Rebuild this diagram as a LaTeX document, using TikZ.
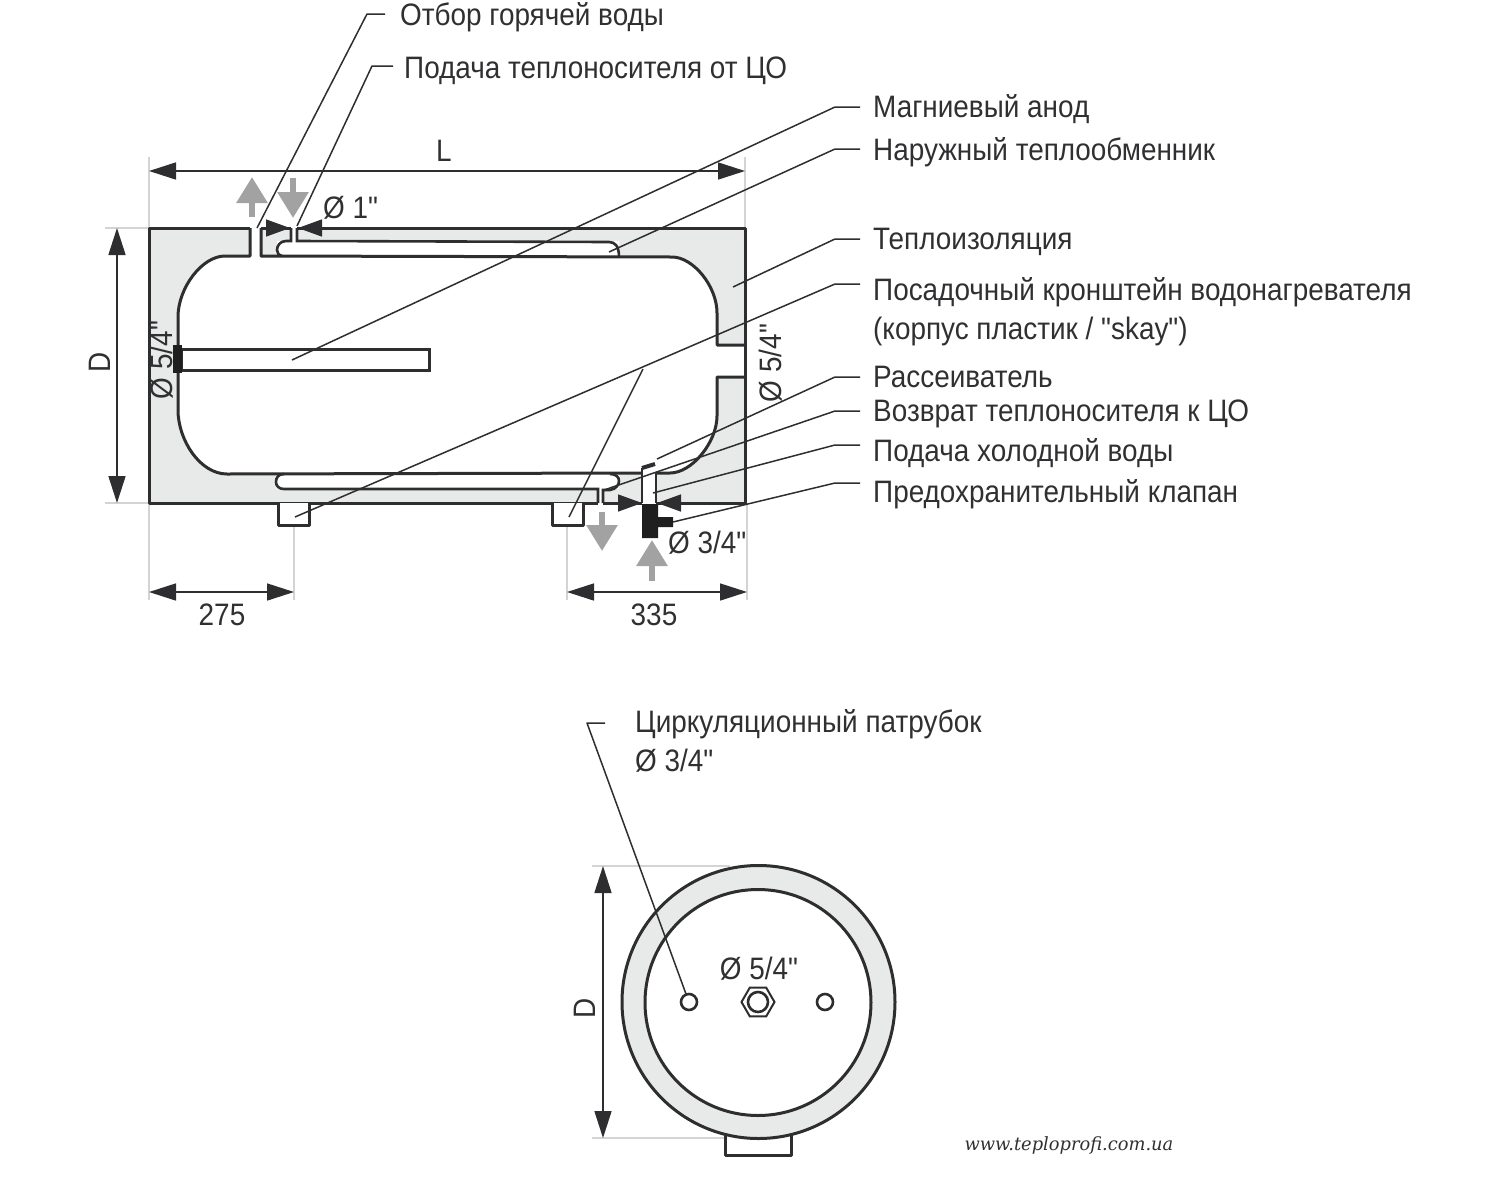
\documentclass[tikz,border=0pt]{standalone}
\usepackage{fontspec}
\newfontfamily\labelfont[FakeStretch=0.9]{Liberation Sans}
\newfontfamily\urlfont[FakeStretch=0.98]{DejaVu Serif}
\usetikzlibrary{arrows.meta,shapes.geometric}
\definecolor{ink}{HTML}{2E2E30}
\definecolor{insul}{HTML}{E8EAEA}
\definecolor{flow}{HTML}{A2A2A2}
\definecolor{ext}{HTML}{D4D4D4}
\definecolor{txt}{HTML}{303032}
\tikzset{
  wall/.style={draw=ink,line width=3pt,line join=round},
  thin wall/.style={draw=ink,line width=2.6pt},
  leader/.style={draw=ink,line width=1.5pt,line join=round},
  extline/.style={draw=ext,line width=1.6pt},
  dim/.style={draw=ink,line width=1.6pt,{Triangle[length=27pt,width=17pt]}-{Triangle[length=27pt,width=17pt]}},
  pinch/.style={draw=ink,line width=1.5pt,-{Triangle[length=24pt,width=17pt]},ink},
  flowarrow/.style={draw=flow,line width=6pt,-{Triangle[length=26pt,width=30pt]}},
  lbl/.style={anchor=west,inner xsep=0pt,inner ysep=0pt,text=txt,font=\labelfont\fontsize{31}{39}\selectfont,text height=22pt,text depth=6pt},
  plain/.style={inner sep=0pt,text=txt,font=\labelfont\fontsize{31}{39}\selectfont},
}
\begin{document}
\begin{tikzpicture}[x=1pt,y=-1pt]
\useasboundingbox (0,0) rectangle (1500,1200);
% extension lines
\draw[extline] (149,157) -- (149,600) (745,157) -- (745,228);
\draw[extline] (105,228) -- (149,228) (105,503) -- (149,503);
\draw[extline] (294,525) -- (294,600) (567,525) -- (567,600) (747,503) -- (747,600);
\draw[extline] (592,866) -- (730,866) (592,1138) -- (730,1138);
% insulation and tank
\fill[insul] (149,228) rectangle (745,503);
\fill[white] (250,228) rectangle (261,257) (291,228) rectangle (297,242)
  (277,241) rectangle (619,257) (276,474) rectangle (619,489)
  (598,489) rectangle (603,503) (642,468) rectangle (656,503);
\path[fill=white] (225,256) .. controls (202,256) and (178,288) .. (178,317) -- (178,410)
  .. controls (178,440) and (200,474) .. (227,474) -- (670,473)
  .. controls (692,473) and (717,442) .. (717,416) -- (717,377) -- (745,377) -- (745,345) -- (717,345) -- (717,313)
  .. controls (717,286) and (693,257) .. (672,257) -- cycle;
\draw[wall] (250,228) -- (149,228) -- (149,503) -- (598,503);
\draw[wall] (261,228) -- (291,228) (297,228) -- (745,228) -- (745,503) -- (656,503) (642,503) -- (603,503);
\draw[wall] (250,228) -- (250,256) -- (225,256) .. controls (202,256) and (178,288) .. (178,317) -- (178,410)
  .. controls (178,440) and (200,474) .. (227,474) -- (642,473);
\draw[wall] (656,473) -- (670,473) .. controls (692,473) and (717,442) .. (717,416) -- (717,377) -- (745,377);
\draw[wall] (745,345) -- (717,345) -- (717,313) .. controls (717,286) and (693,257) .. (672,257) -- (261,256) -- (261,228);
% top exchanger
\draw[thin wall] (291,228) -- (291,241) -- (286,241) .. controls (280,241) and (277,246) .. (277,250) .. controls (277,253) and (279,256) .. (282,256);
\draw[thin wall] (297,228) -- (297,241) -- (609,242) .. controls (615,242) and (619,246) .. (619,257);
% bottom exchanger
\draw[thin wall] (284,474) .. controls (278,474) and (276,478) .. (276,482) .. controls (276,486) and (279,489) .. (284,489) -- (598,489) -- (598,503);
\draw[thin wall] (603,503) -- (603,490) -- (610,490) .. controls (616,489) and (619,485) .. (619,481) .. controls (619,477) and (616,474) .. (610,474);
% cold water neck
\draw[thin wall] (642,503) -- (642,468);
\draw[ink,line width=4pt] (642,468) -- (655,464);
\draw[thin wall] (656,503) -- (656,473);
% feet
\draw[wall,fill=white] (278,503) |- (309,525) -- (309,503);
\draw[wall,fill=white] (552,503) |- (583,525) -- (583,503);
% anode
\node[draw=ink,line width=3pt,fill=white,minimum width=248pt,minimum height=21pt,inner sep=0pt,anchor=west] (anode) at (179.5,359.5) {};
\fill[black!88] (173,345) rectangle (182,373);
% valve
\fill[black!88] (642,504) rectangle (658,538) (658,517) rectangle (673,527);
% flow arrows
\coordinate (f1a) at (252,217); \coordinate (f1b) at (252,177);
\coordinate (f2a) at (293,178); \coordinate (f2b) at (293,218);
\coordinate (f3a) at (602,512); \coordinate (f3b) at (602,551);
\coordinate (f4a) at (652,581); \coordinate (f4b) at (652,540);
\draw[flowarrow] (f1a) -- (f1b);
\draw[flowarrow] (f2a) -- (f2b);
\draw[flowarrow] (f3a) -- (f3b);
\draw[flowarrow] (f4a) -- (f4b);
% labels
\node[lbl] (hot) at (400,17) {Отбор горячей воды};
\node[lbl] (feed) at (404,70) {Подача теплоносителя от ЦО};
\node[lbl] (anodel) at (873,109) {Магниевый анод};
\node[lbl] (exch) at (873,152) {Наружный теплообменник};
\node[lbl] (ins) at (873,241) {Теплоизоляция};
\node[lbl] (brk) at (873,292) {Посадочный кронштейн водонагревателя};
\node[lbl] (brk2) at (873,331) {(корпус пластик / "skay")};
\node[lbl] (diff) at (873,379) {Рассеиватель};
\node[lbl] (ret) at (873,413) {Возврат теплоносителя к ЦО};
\node[lbl] (cold) at (873,453) {Подача холодной воды};
\node[lbl] (valve) at (873,494) {Предохранительный клапан};
\node[lbl] (circ) at (635,724) {Циркуляционный патрубок};
\node[lbl] (circ2) at (635,763) {Ø 3/4"};
\node[plain] (dl) at (444,151) {L};
\node[plain,rotate=90] (dd) at (100,362) {D};
\node[plain] (d275) at (222,615) {275};
\node[plain] (d335) at (654,615) {335};
\node[plain,anchor=west] (p1) at (323,208) {Ø 1"};
\node[plain,anchor=west] (p34) at (668,543) {Ø 3/4"};
\node[plain,rotate=90] (p54a) at (162,360) {Ø 5/4"};
\node[plain,rotate=90] (p54b) at (771,363) {Ø 5/4"};
\node[plain,rotate=90] (dd2) at (585,1008) {D};
\node[inner sep=0pt,text=txt,font=\urlfont\itshape\fontsize{18.2}{22}\selectfont] (url) at (1069,1145) {www.teploprofi.com.ua};
% dimensions
\coordinate (La) at (149,171); \coordinate (Lb) at (745,171);
\coordinate (Da) at (117,228); \coordinate (Db) at (117,503);
\coordinate (Aa) at (149,592); \coordinate (Ab) at (294,592);
\coordinate (Ba) at (567,592); \coordinate (Bb) at (747,592);
\coordinate (Ca) at (603,866); \coordinate (Cb) at (603,1138);
\draw[dim] (La) -- (Lb);
\draw[dim] (Da) -- (Db);
\draw[dim] (Aa) -- (Ab);
\draw[dim] (Ba) -- (Bb);
\draw[dim] (Ca) -- (Cb);
% pinch arrows
\coordinate (t1) at (267,228); \coordinate (t1e) at (290,228);
\coordinate (t2) at (323,228); \coordinate (t2e) at (298,228);
\coordinate (v1) at (620,503); \coordinate (v1e) at (642,503);
\coordinate (v2) at (683,503); \coordinate (v2e) at (657,503);
\draw[pinch] (t1) -- (t1e);
\draw[pinch] (t2) -- (t2e);
\draw[pinch] (v1) -- (v1e);
\draw[pinch] (v2) -- (v2e);
% leaders
\coordinate (l1) at (257,228); \coordinate (l1c) at (367,14); \coordinate (l1e) at (385,14);
\coordinate (l2) at (297,226); \coordinate (l2c) at (372,66); \coordinate (l2e) at (393,66);
\coordinate (l3) at (292,360); \coordinate (l3c) at (835,107); \coordinate (l3e) at (860,107);
\coordinate (l4) at (609,252); \coordinate (l4c) at (835,149); \coordinate (l4e) at (860,149);
\coordinate (l5) at (733,287); \coordinate (l5c) at (835,239); \coordinate (l5e) at (860,239);
\coordinate (l6) at (295,517); \coordinate (l6c) at (835,284); \coordinate (l6e) at (860,284);
\coordinate (l6j) at (643,369); \coordinate (l6f) at (569,517);
\coordinate (l7) at (657,459); \coordinate (l7c) at (835,377); \coordinate (l7e) at (860,377);
\coordinate (l8) at (604,490); \coordinate (l8c) at (835,411); \coordinate (l8e) at (860,411);
\coordinate (l9) at (653,493); \coordinate (l9c) at (835,445); \coordinate (l9e) at (860,445);
\coordinate (l10) at (673,522); \coordinate (l10c) at (835,483); \coordinate (l10e) at (860,483);
\coordinate (l11) at (686,994); \coordinate (l11c) at (587,723); \coordinate (l11e) at (605,723);
\foreach \n in {1,...,10}{ \draw[leader] (l\n) -- (l\n c) -- (l\n e); }
\draw[leader] (l6j) -- (l6f);
% end view
\draw[wall,fill=white] (725,1130) |- (791,1155) -- (791,1130);
\draw[wall,fill=insul] (758.5,1002) circle (136.5);
\draw[wall,fill=white] (758,1002.5) circle (113);
\draw[thin wall,fill=white] (689,1002) circle (8);
\draw[thin wall,fill=white] (825,1002) circle (8);
\node[regular polygon,regular polygon sides=6,draw=ink,line width=2pt,minimum size=33pt,inner sep=0pt] (nut) at (758,1002) {};
\draw[thin wall,fill=white] (nut.center) circle (10);
\node[plain] (p54c) at (759,969) {Ø 5/4"};
\draw[leader] (l11) -- (l11c) -- (l11e);
\end{tikzpicture}
\end{document}
